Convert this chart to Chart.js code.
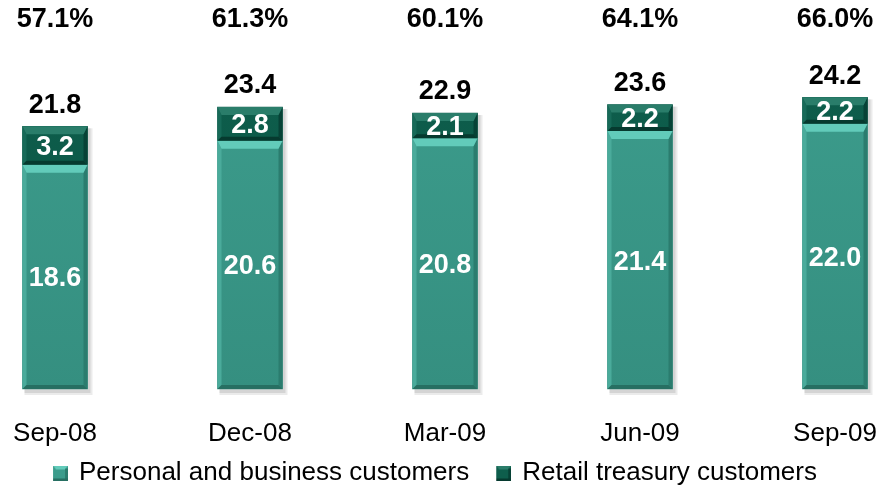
<!DOCTYPE html>
<html>
<head>
<meta charset="utf-8">
<script src="https://cdn.jsdelivr.net/npm/chart.js@4"></script>
<style>
  html, body { margin: 0; padding: 0; background: #fff; }
  #wrap { width: 878px; height: 496px; }
</style>
</head>
<body>
<div id="wrap"><canvas id="depositChart" width="878" height="496"></canvas></div>
<script>
const quarters = ['Sep-08', 'Dec-08', 'Mar-09', 'Jun-09', 'Sep-09'];
const personalBusiness = [18.6, 20.6, 20.8, 21.4, 22.0];
const retailTreasury = [3.2, 2.8, 2.1, 2.2, 2.2];
const totals = [21.8, 23.4, 22.9, 23.6, 24.2];
const shareLabels = ['57.1%', '61.3%', '60.1%', '64.1%', '66.0%'];

const FONT = '"Liberation Sans", Arial, sans-serif';

// shades for each series: face (top/bottom of gradient), top facet, left, right and bottom edges
const shades = {
  light: { face: '#3c9c8c', faceLow: '#358f80', top: '#62cbba', left: '#4aab9b', right: '#2b7c6e', bottom: '#276f62' },
  dark:  { face: '#0e5e4c', faceLow: '#0b5444', top: '#2a7d6a', left: '#176a58', right: '#074236', bottom: '#063a2f' }
};

// bevelled squares for the legend; the transparent strip on the left
// opens up the gap between the two legend entries
function legendIcon(s) {
  const c = document.createElement('canvas');
  c.width = 37; c.height = 15;
  const g = c.getContext('2d');
  const x0 = 22;
  g.fillStyle = s.face; g.fillRect(x0, 0, 15, 15);
  g.fillStyle = s.top;
  g.beginPath(); g.moveTo(x0, 0); g.lineTo(x0 + 15, 0); g.lineTo(x0 + 12, 4); g.lineTo(x0 + 3, 4); g.closePath(); g.fill();
  g.fillStyle = s.right; g.fillRect(x0 + 12, 3, 3, 12);
  g.fillStyle = s.bottom; g.fillRect(x0, 13, 15, 2);
  return c;
}

function faceFill(s) {
  return (c) => {
    const area = c.chart.chartArea;
    if (!area) return s.face;
    const grad = c.chart.ctx.createLinearGradient(0, area.top, 0, area.bottom);
    grad.addColorStop(0, s.face);
    grad.addColorStop(1, s.faceLow);
    return grad;
  };
}

const bevelPlugin = {
  id: 'bevel',
  beforeDatasetsDraw(chart) {
    // soft shadow behind every stacked column
    const ctx = chart.ctx;
    const lower = chart.getDatasetMeta(0).data;
    const upper = chart.getDatasetMeta(1).data;
    ctx.save();
    lower.forEach((bar, i) => {
      const w = bar.width;
      const top = upper[i].y;
      ctx.fillStyle = 'rgba(0,0,0,0.08)';
      ctx.fillRect(bar.x - w / 2 + 2, top + 2, w + 3, bar.base - top + 4);
      ctx.fillStyle = 'rgba(0,0,0,0.10)';
      ctx.fillRect(bar.x - w / 2 + 2, top + 2, w + 1, bar.base - top + 2);
    });
    ctx.restore();
  },
  afterDatasetsDraw(chart) {
    const ctx = chart.ctx;
    chart.data.datasets.forEach((ds, i) => {
      const s = ds.shade;
      chart.getDatasetMeta(i).data.forEach(bar => {
        const l = bar.x - bar.width / 2, r = bar.x + bar.width / 2;
        const t = bar.y, b = bar.base;
        const e = 4, th = 8;
        ctx.save();
        ctx.fillStyle = s.left;
        ctx.beginPath(); ctx.moveTo(l, t); ctx.lineTo(l + e, t + th); ctx.lineTo(l + e, b - e); ctx.lineTo(l, b); ctx.closePath(); ctx.fill();
        ctx.fillStyle = s.right;
        ctx.beginPath(); ctx.moveTo(r, t); ctx.lineTo(r - e, t + th); ctx.lineTo(r - e, b - e); ctx.lineTo(r, b); ctx.closePath(); ctx.fill();
        ctx.fillStyle = s.bottom;
        ctx.beginPath(); ctx.moveTo(l, b); ctx.lineTo(l + e, b - e); ctx.lineTo(r - e, b - e); ctx.lineTo(r, b); ctx.closePath(); ctx.fill();
        ctx.fillStyle = s.top;
        ctx.beginPath(); ctx.moveTo(l, t); ctx.lineTo(r, t); ctx.lineTo(r - e, t + th); ctx.lineTo(l + e, t + th); ctx.closePath(); ctx.fill();
        ctx.restore();
      });
    });
  }
};

const labelPlugin = {
  id: 'valueLabels',
  afterDatasetsDraw(chart) {
    const ctx = chart.ctx;
    ctx.save();
    ctx.textAlign = 'center';
    ctx.textBaseline = 'middle';
    ctx.font = 'bold 27px ' + FONT;
    ctx.fillStyle = '#ffffff';
    chart.data.datasets.forEach((ds, i) => {
      chart.getDatasetMeta(i).data.forEach((bar, j) => {
        ctx.fillText(ds.data[j].toFixed(1), bar.x, (bar.y + bar.base) / 2 + 2);
      });
    });
    ctx.fillStyle = '#000000';
    chart.getDatasetMeta(1).data.forEach((bar, j) => {
      ctx.fillText(totals[j].toFixed(1), bar.x, bar.y - 21);
      ctx.fillText(shareLabels[j], bar.x, 20);
    });
    ctx.restore();
  }
};

new Chart(document.getElementById('depositChart').getContext('2d'), {
  type: 'bar',
  data: {
    labels: quarters,
    datasets: [{
      label: 'Personal and business customers',
      data: personalBusiness,
      backgroundColor: faceFill(shades.light),
      shade: shades.light,
      pointStyle: legendIcon(shades.light),
      barThickness: 65,
      clip: false
    }, {
      label: 'Retail treasury customers',
      data: retailTreasury,
      backgroundColor: faceFill(shades.dark),
      shade: shades.dark,
      pointStyle: legendIcon(shades.dark),
      barThickness: 65,
      clip: false
    }]
  },
  options: {
    responsive: false,
    animation: false,
    layout: { padding: { top: 60, left: 0, right: 28, bottom: 0 } },
    plugins: {
      legend: {
        position: 'bottom',
        labels: {
          usePointStyle: true,
          pointStyleWidth: 33,
          color: '#000',
          font: { family: FONT, size: 26 },
          padding: 7
        }
      },
      tooltip: { enabled: false }
    },
    scales: {
      x: {
        stacked: true,
        offset: false,
        grid: { display: false, drawTicks: false },
        border: { display: false },
        ticks: { color: '#000', font: { family: FONT, size: 26 }, padding: 29, maxRotation: 0, autoSkip: false },
        afterFit(scale) {
          scale.paddingLeft = 55;
          scale.paddingRight = 43;
          scale.height = 64;
        }
      },
      y: {
        stacked: true,
        display: false,
        min: 0,
        max: 27.3
      }
    }
  },
  plugins: [bevelPlugin, labelPlugin]
});
</script>
</body>
</html>
